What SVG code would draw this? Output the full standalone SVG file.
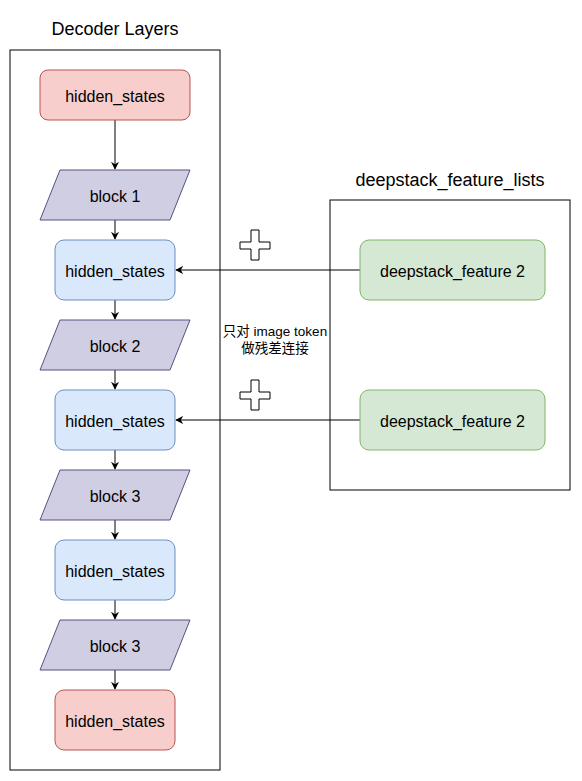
<svg xmlns="http://www.w3.org/2000/svg" width="582" height="781" viewBox="0 0 582 781">
<style>
text{font-family:"Liberation Sans",Arial,"Noto Sans CJK SC",sans-serif;fill:#000;text-anchor:middle;dominant-baseline:central}
.lbl{font-size:16px}
.title{font-size:18px}
.note{font-size:13.5px}
.frame{fill:#fff;stroke:#000;stroke-width:1}
.red{fill:#f8cecc;stroke:#b85450}
.blue{fill:#dae8fc;stroke:#6c8ebf}
.green{fill:#d5e8d4;stroke:#82b366}
.blk{fill:#d0cee2;stroke:#56517e}
.edge{fill:none;stroke:#000;stroke-width:1;marker-end:url(#arr)}
.plus{fill:#fff;stroke:#000;stroke-width:1}
</style>
<defs>
<marker id="arr" viewBox="0 0 10 10" refX="9" refY="5" markerWidth="8" markerHeight="8" markerUnits="userSpaceOnUse" orient="auto">
<path d="M0,0 L10,5 L0,10 L3,5 Z" fill="#000"/>
</marker>
</defs>
<rect width="582" height="781" fill="#fff"/>
<g id="decoder-layers">
<rect class="frame" x="10" y="50" width="210" height="720"/>
<text class="title" x="115" y="29">Decoder Layers</text>
</g>
<g id="deepstack-feature-lists">
<rect class="frame" x="330" y="200" width="240" height="290"/>
<text class="title" x="450" y="180">deepstack_feature_lists</text>
</g>
<g id="connectors">
<path class="edge" d="M115,120 V169"/>
<path class="edge" d="M115,220 V239"/>
<path class="edge" d="M115,300 V319"/>
<path class="edge" d="M115,370 V389"/>
<path class="edge" d="M115,450 V469"/>
<path class="edge" d="M115,520 V539"/>
<path class="edge" d="M115,600 V619"/>
<path class="edge" d="M115,670 V689"/>
<path class="edge" d="M360,270 H176"/>
<path class="edge" d="M360,420 H176"/>
</g>
<g id="hs0"><rect class="red" x="40" y="70" width="150" height="50" rx="8"/><text class="lbl" x="115" y="96">hidden_states</text></g>
<g id="block1"><polygon class="blk" points="60,170 190,170 170,220 40,220"/><text class="lbl" x="115" y="196">block 1</text></g>
<g id="hs1"><rect class="blue" x="55" y="240" width="120" height="60" rx="9"/><text class="lbl" x="115" y="271">hidden_states</text></g>
<g id="block2"><polygon class="blk" points="60,320 190,320 170,370 40,370"/><text class="lbl" x="115" y="346">block 2</text></g>
<g id="hs2"><rect class="blue" x="55" y="390" width="120" height="60" rx="9"/><text class="lbl" x="115" y="421">hidden_states</text></g>
<g id="block3a"><polygon class="blk" points="60,470 190,470 170,520 40,520"/><text class="lbl" x="115" y="496">block 3</text></g>
<g id="hs3"><rect class="blue" x="55" y="540" width="120" height="60" rx="9"/><text class="lbl" x="115" y="571">hidden_states</text></g>
<g id="block3b"><polygon class="blk" points="60,620 190,620 170,670 40,670"/><text class="lbl" x="115" y="646">block 3</text></g>
<g id="hs4"><rect class="red" x="55" y="690" width="120" height="60" rx="9"/><text class="lbl" x="115" y="721">hidden_states</text></g>
<g id="feat1"><rect class="green" x="360" y="240" width="185" height="60" rx="9"/><text class="lbl" x="452.5" y="271">deepstack_feature 2</text></g>
<g id="feat2"><rect class="green" x="360" y="390" width="185" height="60" rx="9"/><text class="lbl" x="452.5" y="421">deepstack_feature 2</text></g>
<g id="plus1"><polygon class="plus" points="251,230 259,230 259,242 270,242 270,249 259,249 259,260 251,260 251,249 240,249 240,242 251,242"/></g>
<g id="plus2"><polygon class="plus" points="251,380 259,380 259,392 270,392 270,399 259,399 259,410 251,410 251,399 240,399 240,392 251,392"/></g>
<g id="note"><text class="note" x="275" y="331">只对 image token</text><text class="note" x="275" y="348">做残差连接</text></g>
</svg>
